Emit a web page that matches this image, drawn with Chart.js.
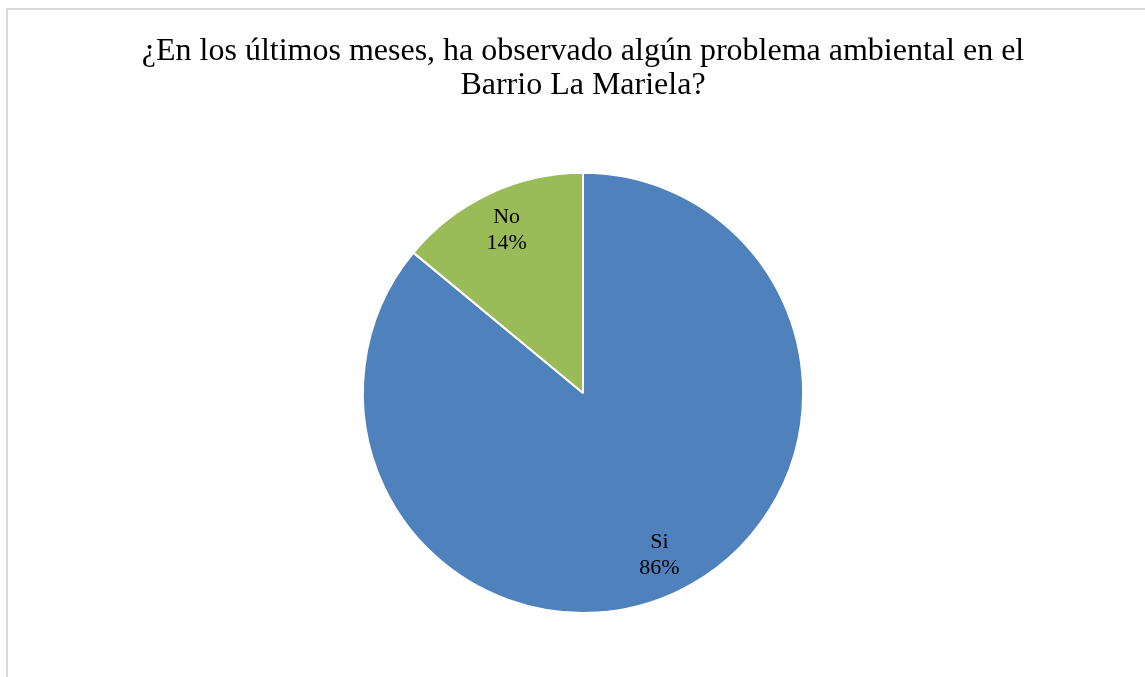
<!DOCTYPE html>
<html>
<head>
<meta charset="utf-8">
<script src="https://cdn.jsdelivr.net/npm/chart.js@4"></script>
<style>
    body { margin: 0; background: #fff; overflow: hidden; }
    #frame {
        position: absolute;
        left: 6px;
        top: 8px;
        width: 1150px;
        height: 700px;
        border: 2px solid #d9d9d9;
        background: #fff;
    }
    canvas { display: block; }
</style>
</head>
<body>
<div id="frame">
    <canvas id="pieChart" width="1150" height="667"></canvas>
</div>
<script>
const titleLines = ['¿En los últimos meses, ha observado algún problema ambiental en el', 'Barrio La Mariela?'];
const categories = ['Si', 'No'];
const percentages = [86, 14];
const sliceColors = ['#4F81BD', '#9BBB59'];

// draws "category / pct%" inside each slice
const sliceLabels = {
    id: 'sliceLabels',
    afterDatasetsDraw(chart) {
        const ctx = chart.ctx;
        const meta = chart.getDatasetMeta(0);
        ctx.save();
        ctx.fillStyle = '#000';
        ctx.font = '22px "Liberation Serif", "Times New Roman", serif';
        ctx.textAlign = 'center';
        ctx.textBaseline = 'middle';
        meta.data.forEach((arc, i) => {
            const p = arc.getProps(['x', 'y', 'startAngle', 'endAngle', 'outerRadius'], true);
            const mid = (p.startAngle + p.endAngle) / 2;
            const r = p.outerRadius * 0.815;
            const cx = p.x + Math.cos(mid) * r;
            const cy = p.y + Math.sin(mid) * r;
            ctx.fillText(categories[i], cx, cy - 13);
            ctx.fillText(percentages[i] + '%', cx, cy + 13);
        });
        ctx.restore();
    }
};

const config = {
    type: 'pie',
    data: {
        labels: categories,
        datasets: [{
            data: percentages,
            backgroundColor: sliceColors,
            borderColor: '#ffffff',
            borderWidth: 2
        }]
    },
    options: {
        responsive: false,
        animation: false,
        layout: {
            padding: { top: 0, bottom: 63, left: 0, right: 0 }
        },
        plugins: {
            legend: { display: false },
            tooltip: { enabled: false },
            title: {
                display: true,
                text: titleLines,
                color: '#000',
                font: { family: '"Liberation Serif", "Times New Roman", serif', size: 32, weight: 'normal', lineHeight: 1.06 },
                padding: { top: 25, bottom: 69 }
            }
        }
    },
    plugins: [sliceLabels]
};

const ctx = document.getElementById('pieChart').getContext('2d');
const pieChart = new Chart(ctx, config);
</script>
</body>
</html>
